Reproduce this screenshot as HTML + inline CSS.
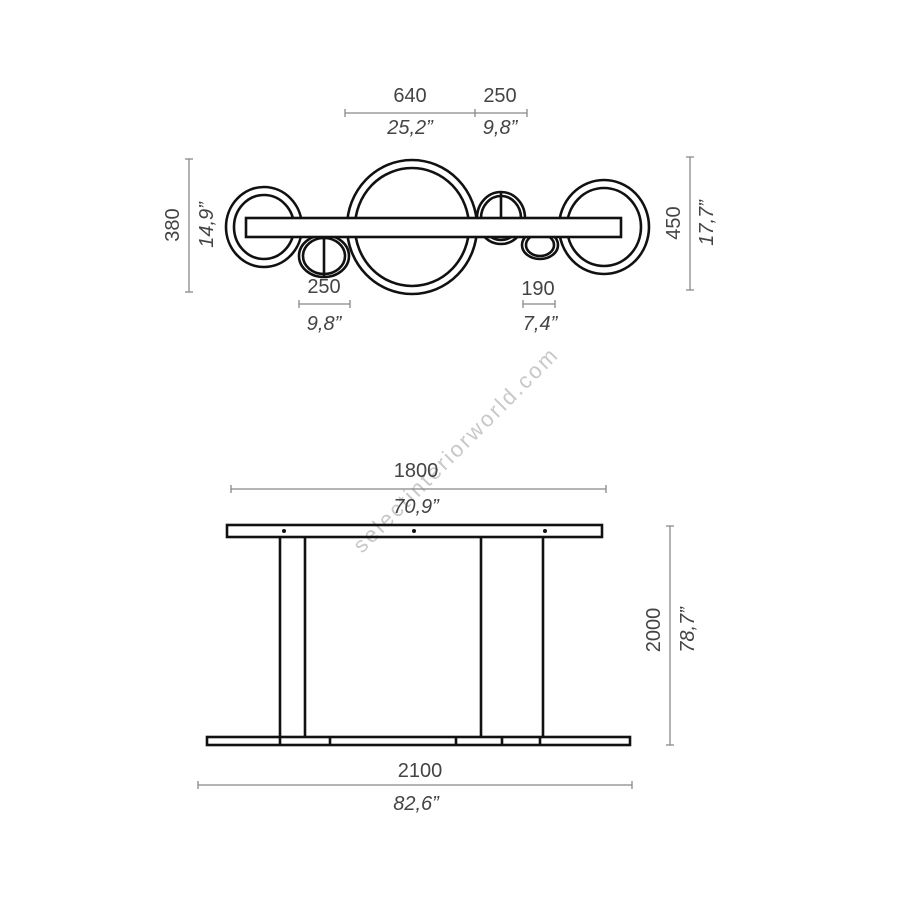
<!DOCTYPE html>
<html><head><meta charset="utf-8"><style>
html,body{margin:0;padding:0;background:#fff}
svg{display:block}
text{font-family:"Liberation Sans",sans-serif;fill:#444;font-size:20px}
.i{font-style:italic}
.d{stroke:#888;stroke-width:1.3;fill:none}
.s{stroke:#111;stroke-width:2.6;fill:none}
</style></head><body>
<svg width="900" height="900" viewBox="0 0 900 900" xmlns="http://www.w3.org/2000/svg">
<path class="d" d="M345 113H527M345 109v8M475 109v8M527 109v8"/>
<text x="410" y="102" text-anchor="middle">640</text>
<text x="500" y="102" text-anchor="middle">250</text>
<text class="i" x="410" y="134" text-anchor="middle">25,2”</text>
<text class="i" x="500" y="134" text-anchor="middle">9,8”</text>
<path class="d" d="M189 159V292M185 159h8M185 292h8M690 157V290M686 157h8M686 290h8"/>
<text transform="translate(179 225) rotate(-90)" text-anchor="middle">380</text>
<text class="i" transform="translate(213 225) rotate(-90)" text-anchor="middle">14,9”</text>
<text transform="translate(680 223) rotate(-90)" text-anchor="middle">450</text>
<text class="i" transform="translate(713 223) rotate(-90)" text-anchor="middle">17,7”</text>
<g class="s" fill="#fff">
<ellipse cx="264" cy="227" rx="38" ry="40"/><ellipse cx="264" cy="227" rx="30" ry="32"/>
<ellipse cx="412" cy="227" rx="65" ry="67"/><ellipse cx="412" cy="227" rx="57" ry="59"/>
<ellipse cx="604" cy="227" rx="45" ry="47"/><ellipse cx="604" cy="227" rx="37" ry="39"/>
<ellipse cx="324" cy="256" rx="25" ry="21"/><ellipse cx="324" cy="256" rx="21" ry="18"/>
<ellipse cx="501" cy="218" rx="24" ry="26"/><ellipse cx="501" cy="218" rx="20" ry="22"/>
<ellipse cx="540" cy="245" rx="18" ry="14"/><ellipse cx="540" cy="245" rx="14" ry="11"/>
<path d="M324 237V277M501 193V218"/>
<rect x="246" y="218" width="375" height="19" fill="#fff"/>
</g>
<path class="d" d="M299 304H350M299 300v8M350 300v8M523 304H555M523 300v8M555 300v8"/>
<text x="324" y="293" text-anchor="middle">250</text>
<text class="i" x="324" y="330" text-anchor="middle">9,8”</text>
<text x="538" y="295" text-anchor="middle">190</text>
<text class="i" x="540" y="330" text-anchor="middle">7,4”</text>
<text transform="translate(362 554) rotate(-45)" style="fill:#c8c8c8;font-size:22px" textLength="278">selectinteriorworld.com</text>
<path class="d" d="M231 489H606M231 485v8M606 485v8"/>
<text x="416" y="477" text-anchor="middle">1800</text>
<text class="i" x="416" y="513" text-anchor="middle">70,9”</text>
<g class="s">
<rect x="227" y="525" width="375" height="12"/>
<path d="M280 537V737M305 537V737M481 537V737M543 537V737"/>
<rect x="207" y="737" width="423" height="8"/>
<path d="M280 737v8M330 737v8M456 737v8M502 737v8M540 737v8"/>
</g>
<circle cx="284" cy="531" r="2" fill="#111"/><circle cx="414" cy="531" r="2" fill="#111"/><circle cx="545" cy="531" r="2" fill="#111"/>
<path class="d" d="M670 526V745M666 526h8M666 745h8"/>
<text transform="translate(660 630) rotate(-90)" text-anchor="middle">2000</text>
<text class="i" transform="translate(694 630) rotate(-90)" text-anchor="middle">78,7”</text>
<path class="d" d="M198 785H632M198 781v8M632 781v8"/>
<text x="420" y="777" text-anchor="middle">2100</text>
<text class="i" x="416" y="810" text-anchor="middle">82,6”</text>
</svg>
</body></html>
